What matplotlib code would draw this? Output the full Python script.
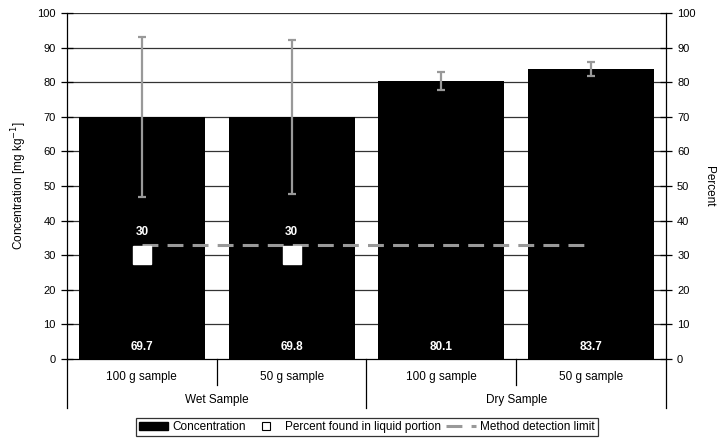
import matplotlib.pyplot as plt
import matplotlib.transforms as mtransforms
from matplotlib.patches import Patch
from matplotlib.lines import Line2D
import numpy as np

plt.rcParams["font.family"] = ["Liberation Sans", "DejaVu Sans"]
plt.rcParams["font.size"] = 8

# =========================
# DATA
# =========================

samples = ["100 g sample", "50 g sample", "100 g sample", "50 g sample"]
groups = ["Wet Sample", "Dry Sample"]
concentration = [69.85, 70.0, 80.3, 83.8]
concentration_labels = ["69.7", "69.8", "80.1", "83.7"]
conc_error = [23.1, 22.3, 2.6, 2.1]
percent_liquid = [30, 30, np.nan, np.nan]
detection_limit = 33

x = np.arange(len(samples))

# =========================
# FIGURE
# =========================

fig = plt.figure(figsize=(7.22, 4.41), dpi=100)
ax = fig.add_axes([0.0928, 0.186, 0.8296, 0.7845])

for v in range(10, 101, 10):
    ax.axhline(v, color="#333333", lw=0.9, zorder=0)

ax.bar(x, concentration, width=0.84, color="black", zorder=2)

ax.errorbar(
    x, concentration, yerr=conc_error,
    fmt="none", ecolor="#999999", elinewidth=1.6,
    capsize=2.8, capthick=1.6, zorder=3
)

mdl_style = dict(color="#999999", lw=2.2, linestyle=(0, (5.2, 3.0)))

ax.plot(x, [detection_limit] * len(x), zorder=4, **mdl_style)

for xi, lab in zip(x, concentration_labels):
    ax.text(xi, 3.5, lab, color="white", ha="center", va="center",
            fontweight="bold", fontsize=8.5, zorder=5)

ax.set_xlim(-0.5, 3.5)
ax.set_ylim(0, 100)
ax.set_yticks(range(0, 101, 10))
ax.set_xticks([])
ax.tick_params(axis="y", direction="inout", length=8, width=0.9, pad=4)
for s in ["top", "bottom", "left", "right"]:
    ax.spines[s].set_visible(False)

ax.set_ylabel("Concentration [mg kg$^{-1}$]", fontsize=8.5, labelpad=6)

# secondary axis
ax2 = ax.twinx()
ax2.set_ylim(0, 100)
ax2.set_yticks(range(0, 101, 10))
ax2.tick_params(axis="y", direction="inout", length=8, width=0.9, pad=4)
for s in ["top", "bottom", "left", "right"]:
    ax2.spines[s].set_visible(False)

ax2.plot(
    x, percent_liquid, linestyle="none", marker="s",
    markersize=12.5, markerfacecolor="white", markeredgecolor="white",
    zorder=5
)
for xi, p in zip(x, percent_liquid):
    if not np.isnan(p):
        ax2.text(xi, p + 6.6, f"{p:g}", color="white", ha="center",
                 va="center", fontweight="bold", fontsize=8.5)

ax2.set_ylabel("Percent", rotation=-90, fontsize=8.5, labelpad=14)

# =========================
# AXIS LINES AND CATEGORY LABELS
# =========================

trans = mtransforms.blended_transform_factory(ax.transData, ax.transAxes)

# y axis lines extended below the plot
for xb in [-0.5, 1.5, 3.5]:
    ax.plot([xb, xb], [-0.142, 1.0 if xb != 1.5 else 0.0], transform=trans,
            color="black", lw=0.9, clip_on=False)
ax.plot([-0.5, 3.5], [0, 0], transform=trans, color="black",
        lw=0.9, clip_on=False, zorder=1)
for xb in [0.5, 2.5]:
    ax.plot([xb, xb], [0, -0.075], transform=trans,
            color="black", lw=0.9, clip_on=False)

for xi, lab in zip(x, samples):
    ax.text(xi, -0.052, lab, transform=trans, ha="center", va="center",
            fontsize=8.5)
for gi, lab in enumerate(groups):
    ax.text(gi * 2 + 0.5, -0.118, lab, transform=trans, ha="center",
            va="center", fontsize=8.5)

# =========================
# LEGEND
# =========================

handles = [
    Patch(facecolor="black", edgecolor="black"),
    Line2D([], [], linestyle="none", marker="s", markersize=6,
           markerfacecolor="white", markeredgecolor="black",
           markeredgewidth=0.8),
    Line2D([], [], **mdl_style),
]
leg = fig.legend(
    handles,
    ["Concentration", "Percent found in liquid portion",
     "Method detection limit"],
    loc="center", bbox_to_anchor=(0.508, 0.031), ncol=3,
    fontsize=8.5, frameon=True, fancybox=False, borderpad=0.25,
    handlelength=2.5, handletextpad=0.35, columnspacing=0.45,
    borderaxespad=0
)
leg.get_frame().set_edgecolor("black")
leg.get_frame().set_linewidth(0.9)

fig.savefig("out.png", dpi=100)
